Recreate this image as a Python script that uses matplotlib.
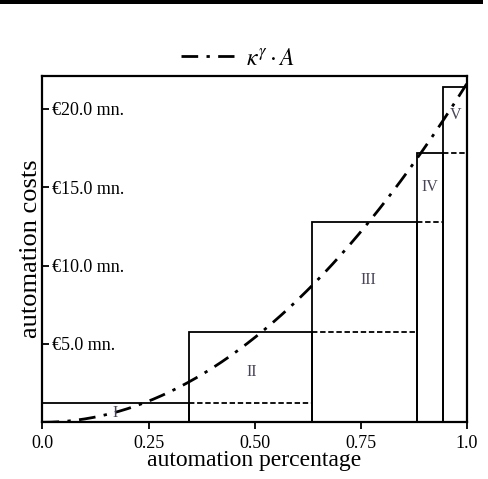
import numpy as np
import matplotlib
matplotlib.use("Agg")
import matplotlib.pyplot as plt
from matplotlib.patches import Rectangle

# Data
stage_labels = ["I", "II", "III", "IV", "V"]
stage_left = [0.0, 0.345, 0.635, 0.884, 0.943]
stage_right = [0.345, 0.635, 0.884, 0.943, 1.0]
stage_cost = [1.21, 5.75, 12.77, 17.2, 21.4]
label_x = [0.171, 0.493, 0.768, 0.912, 0.973]
label_y = [0.6, 3.23, 9.1, 15.0, 19.6]
curve_A = 21.6
curve_gamma = 2.0
y_ticks = [5, 10, 15, 20]
y_ticklabels = ["€5.0 mn.", "€10.0 mn.", "€15.0 mn.", "€20.0 mn."]
x_ticks = [0.0, 0.25, 0.5, 0.75, 1.0]
x_ticklabels = ["0.0", "0.25", "0.50", "0.75", "1.0"]

plt.rcParams['font.family'] = ['Liberation Serif', 'DejaVu Serif']
plt.rcParams['mathtext.fontset'] = 'stix'

fig = plt.figure(figsize=(4.89, 4.79), dpi=100)
ax = fig.add_axes([0.0869, 0.1184, 0.8675, 0.7229])

lw = 1.3
for i in range(len(stage_cost)):
    l, r, h = stage_left[i], stage_right[i], stage_cost[i]
    ax.plot([l, l, r, r], [0, h, h, 0], color='black', lw=lw, solid_joinstyle='miter')
    if i + 1 < len(stage_cost):
        ax.plot([r, stage_right[i + 1]], [h, h], color='black', lw=lw, ls=(0, (3, 1.5)))
    ax.text(label_x[i], label_y[i], stage_labels[i], fontsize=11.5, color='#4a4458',
            ha='center', va='center')

k = np.linspace(0, 1, 200)
line, = ax.plot(k, k ** curve_gamma * curve_A, color='black', lw=2.0,
                ls=(0, (6, 3, 1.2, 3)))

ax.set_xlim(0, 1.0)
ax.set_ylim(0, 22.1)
ax.set_xticks(x_ticks)
ax.set_xticklabels(x_ticklabels, fontsize=13)
ax.set_yticks(y_ticks)
ax.set_yticklabels(y_ticklabels, fontsize=13)
ax.tick_params(axis='x', direction='out', length=5, width=1.3, pad=4)
ax.tick_params(axis='y', direction='in', length=5, width=1.3, pad=-7)
for t in ax.get_yticklabels():
    t.set_ha('left')
for s in ax.spines.values():
    s.set_linewidth(1.6)

ax.set_xlabel("automation percentage", fontsize=17, labelpad=-1)
ax.set_ylabel("automation costs", fontsize=19, labelpad=0)

leg = ax.legend([line], [r"$\kappa^{\gamma}\cdot A$"], loc='lower center',
                bbox_to_anchor=(0.46, 1.005), frameon=False, fontsize=17,
                handlelength=2.25, handletextpad=0.5, borderaxespad=0.0,
                borderpad=0.2)

fig.add_artist(Rectangle((0, 1 - 4 / 479), 483 / 489, 4 / 479,
                         transform=fig.transFigure, color='black', lw=0))

fig.savefig("out.png", dpi=100)
